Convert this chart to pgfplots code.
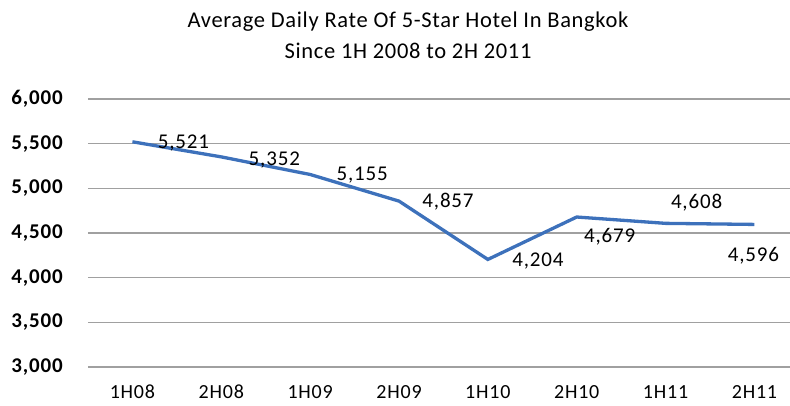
\documentclass[border=0pt]{standalone}
\usepackage{fontspec}
\setmainfont{Carlito}
\usepackage{pgfplots}
\usepackage{pgfplotstable}
\pgfplotsset{compat=1.18}
\definecolor{lineblue}{RGB}{61,113,187}
\definecolor{gridgray}{RGB}{160,160,160}
\pgfplotstableread{
x y dx dy
0 5521 51 -1
1 5352 53 -3
2 5155 52 -0.5
3 4857 49 -1
4 4204 50 -1.5
5 4679 33 -20
6 4608 31 21
7 4596 -1 -31.5
}\adrdata
\begin{document}
\begin{tikzpicture}[x=1pt,y=1pt]
\begin{axis}[
  at={(88pt,38pt)}, anchor=south west,
  scale only axis, width=702pt, height=268pt,
  xmin=-0.5, xmax=7.4, ymin=3000, ymax=6000,
  ytick={3000,3500,...,6000},
  xtick={0,...,7},
  xticklabels={1H08,2H08,1H09,2H09,1H10,2H10,1H11,2H11},
  axis line style={draw=none},
  major tick length=0pt,
  ymajorgrids, grid style={gridgray, line width=1.3pt},
  /pgf/number format/assume math mode=true,
  /pgf/number format/1000 sep={,},
  yticklabel style={font=\fontsize{21}{24}\selectfont\bfseries\addfontfeature{LetterSpace=4}, anchor=east, inner sep=0pt, xshift=-25pt},
  xticklabel style={font=\fontsize{20}{22}\selectfont\addfontfeature{LetterSpace=4}, anchor=north, inner sep=0pt, yshift=-18pt},
  clip=false,
]
\addplot[lineblue, line width=3.3pt, mark=none,
  nodes near coords,
  visualization depends on={\thisrow{dx} \as \dx},
  visualization depends on={\thisrow{dy} \as \dy},
  every node near coord/.append style={font=\fontsize{21}{24}\selectfont\addfontfeature{LetterSpace=4}, text=black, anchor=center, inner sep=0pt, xshift=\dx pt, yshift=\dy pt},
  point meta=y,
] table[x=x,y=y] {\adrdata};
\end{axis}
\node[font=\fontsize{22.5}{24}\selectfont\addfontfeature{LetterSpace=3}, anchor=base] at (408pt,377pt) {Average Daily Rate Of 5-Star Hotel In Bangkok};
\node[font=\fontsize{22.5}{24}\selectfont\addfontfeature{LetterSpace=3}, anchor=base] at (408pt,346pt) {Since 1H 2008 to 2H 2011};
\pgfresetboundingbox
\path[use as bounding box] (0pt,0pt) rectangle (790pt,405pt);
\end{tikzpicture}
\end{document}
